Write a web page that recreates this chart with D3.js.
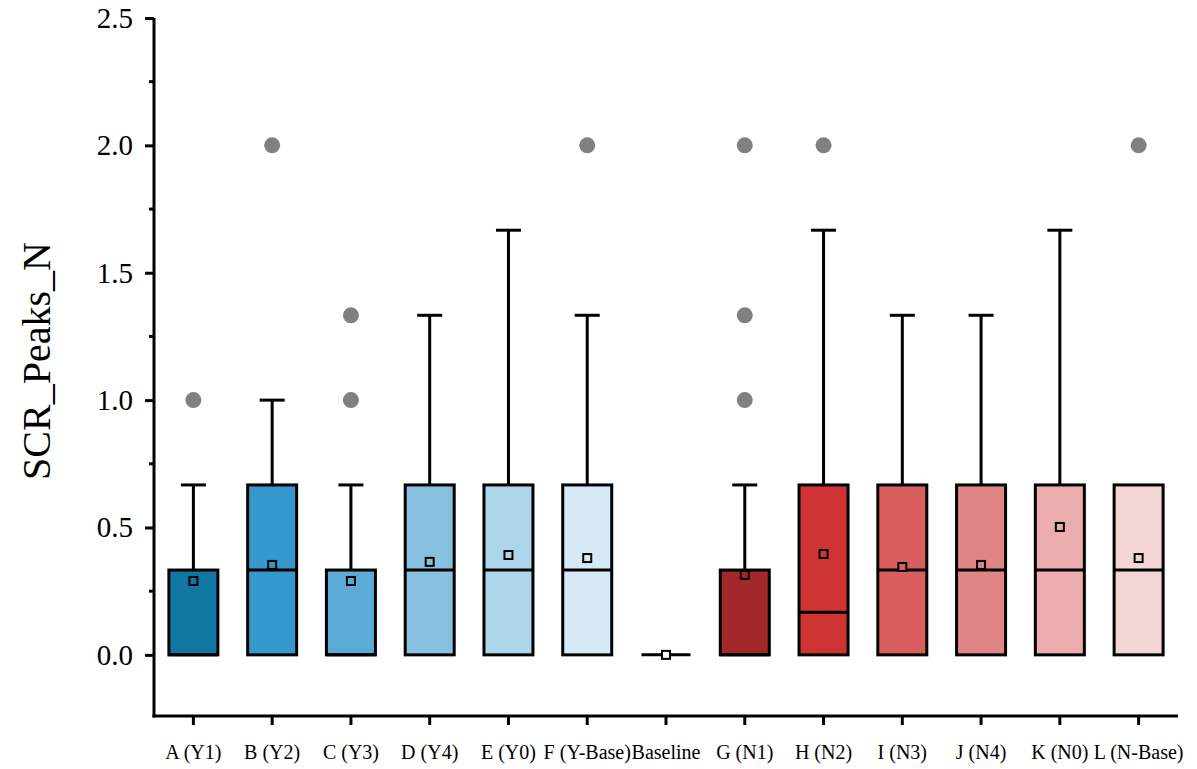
<!DOCTYPE html>
<html>
<head>
<meta charset="utf-8">
<script src="https://cdn.jsdelivr.net/npm/d3@7"></script>
<style>
  body { margin: 0; background: #fff; }
  svg { display: block; }
</style>
</head>
<body>
<svg id="chart" width="1197" height="769"></svg>
<script>
const categories = ["A (Y1)", "B (Y2)", "C (Y3)", "D (Y4)", "E (Y0)", "F (Y-Base)", "Baseline", "G (N1)", "H (N2)", "I (N3)", "J (N4)", "K (N0)", "L (N-Base)"];
const q1Values = [0, 0, 0, 0, 0, 0, 0, 0, 0, 0, 0, 0, 0];
const medianValues = [0, 0.333, 0, 0.333, 0.333, 0.333, 0, 0, 0.167, 0.333, 0.333, 0.333, 0.333];
const q3Values = [0.333, 0.667, 0.333, 0.667, 0.667, 0.667, 0, 0.333, 0.667, 0.667, 0.667, 0.667, 0.667];
const whiskerLow = [0, 0, 0, 0, 0, 0, 0, 0, 0, 0, 0, 0, 0];
const whiskerHigh = [0.667, 1.0, 0.667, 1.333, 1.667, 1.333, 0, 0.667, 1.667, 1.333, 1.333, 1.667, 0.667];
const meanValues = [0.29, 0.353, 0.29, 0.365, 0.392, 0.38, 0, 0.314, 0.396, 0.345, 0.353, 0.502, 0.38];
const outlierValues = [[1.0], [2.0], [1.0, 1.333], [], [], [2.0], [], [1.0, 1.333, 2.0], [2.0], [], [], [], [2.0]];
const boxColors = ["#0f77a2", "#3498cc", "#5aabd6", "#86c1df", "#acd6ea", "#d6eaf5", "#ffffff", "#a2282a", "#cf3434", "#d95f5f", "#e08585", "#ebadad", "#f3d5d6"];
const yTicks = [0, 0.5, 1.0, 1.5, 2.0, 2.5];
const yMinorTicks = [0.25, 0.75, 1.25, 1.75, 2.25];

const svg = d3.select("#chart");
const mLeft = 154, mRight = 1178, mTop = 18, mBottom = 716;

const y = d3.scaleLinear().domain([-0.24, 2.5]).range([mBottom, mTop]);
const x = d3.scaleBand().domain(categories).range([mLeft, mRight]).paddingInner(0).paddingOuter(0);
const boxW = 49, capW = 25;

const font = "'Liberation Serif', 'Times New Roman', serif";

// Y axis
const yAxis = d3.axisLeft(y).tickValues(yTicks).tickFormat(d3.format(".1f")).tickSize(9).tickSizeOuter(0);
const gy = svg.append("g").attr("transform", `translate(${mLeft},0)`).call(yAxis);
gy.select(".domain").attr("stroke", "#000").attr("stroke-width", 3).attr("d", `M0,${mBottom + 1.5}V${mTop}`);
gy.selectAll(".tick line").attr("stroke", "#000").attr("stroke-width", 3);
gy.selectAll(".tick text").attr("font-family", font).attr("font-size", 29).attr("fill", "#000").attr("x", -21);
svg.append("g").selectAll("line").data(yMinorTicks).join("line")
  .attr("x1", mLeft - 5).attr("x2", mLeft)
  .attr("y1", d => y(d)).attr("y2", d => y(d))
  .attr("stroke", "#000").attr("stroke-width", 3);

// X axis
const xAxis = d3.axisBottom(x).tickSize(9).tickSizeOuter(0);
const gx = svg.append("g").attr("transform", `translate(0,${mBottom})`).call(xAxis);
gx.select(".domain").attr("stroke", "#000").attr("stroke-width", 3).attr("d", `M${mLeft - 1.5},0H${mRight}`);
gx.selectAll(".tick line").attr("stroke", "#000").attr("stroke-width", 3);
gx.selectAll(".tick text").attr("font-family", font).attr("font-size", 20).attr("fill", "#000").attr("y", 29);

// Y label
svg.append("text")
  .attr("transform", `translate(50,361) rotate(-90)`)
  .attr("text-anchor", "middle")
  .attr("font-family", font).attr("font-size", 40).attr("fill", "#000")
  .text("SCR_Peaks_N");

const data = categories.map((c, i) => ({
  c, q1: q1Values[i], med: medianValues[i], q3: q3Values[i],
  lo: whiskerLow[i], hi: whiskerHigh[i], mean: meanValues[i],
  out: outlierValues[i], color: boxColors[i]
}));

const g = svg.append("g");
data.forEach(d => {
  const cx = x(d.c) + x.bandwidth() / 2;
  const gg = g.append("g");
  if (d.hi > d.q3) {
    gg.append("line").attr("x1", cx).attr("x2", cx).attr("y1", y(d.q3)).attr("y2", y(d.hi))
      .attr("stroke", "#000").attr("stroke-width", 3);
    gg.append("line").attr("x1", cx - capW / 2).attr("x2", cx + capW / 2).attr("y1", y(d.hi)).attr("y2", y(d.hi))
      .attr("stroke", "#000").attr("stroke-width", 3);
  }
  if (d.q3 > d.q1) {
    gg.append("rect").attr("x", cx - boxW / 2).attr("y", y(d.q3)).attr("width", boxW)
      .attr("height", y(d.q1) - y(d.q3)).attr("fill", d.color).attr("stroke", "#000").attr("stroke-width", 3);
  }
  gg.append("line").attr("x1", cx - boxW / 2).attr("x2", cx + boxW / 2).attr("y1", y(d.med)).attr("y2", y(d.med))
    .attr("stroke", "#000").attr("stroke-width", 3);
  gg.append("rect").attr("x", cx - 4).attr("y", y(d.mean) - 4).attr("width", 8).attr("height", 8)
    .attr("fill", d.q3 > d.q1 ? d.color : "#fff").attr("stroke", "#000").attr("stroke-width", 2);
  gg.selectAll("circle").data(d.out).join("circle")
    .attr("cx", cx).attr("cy", v => y(v)).attr("r", 8).attr("fill", "#808080");
});
</script>
</body>
</html>
